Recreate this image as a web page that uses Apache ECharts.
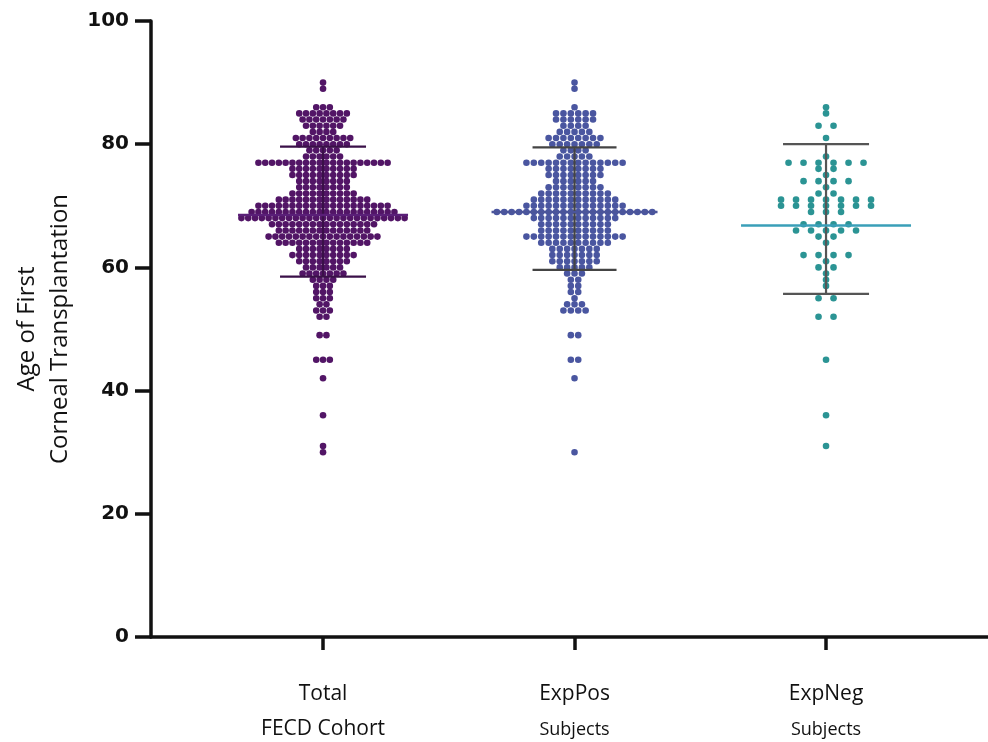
<!DOCTYPE html>
<html>
<head>
<meta charset="utf-8">
<script src="https://cdn.jsdelivr.net/npm/echarts@6/dist/echarts.min.js"></script>
<style>
html, body { margin: 0; padding: 0; background: #fff; }
#main { width: 988px; height: 742px; }
</style>
</head>
<body>
<div id="main"></div>
<script>
// categories
var groupNames = ['Total\nFECD Cohort', 'ExpPos\nSubjects', 'ExpNeg\nSubjects'];
var yTicks = [0, 20, 40, 60, 80, 100];

// ages and how many subjects sit at each age
var totalAges   = [90, 89, 86, 85, 84, 83, 82, 81, 80, 79, 78, 77, 76, 75, 74, 73, 72, 71, 70, 69, 68, 67, 66, 65, 64, 63, 62, 61, 60, 59, 58, 57, 56, 55, 54, 53, 52, 49, 45, 42, 36, 31, 30];
var totalCounts = [1, 1, 3, 8, 7, 6, 4, 9, 8, 5, 6, 20, 10, 10, 8, 8, 10, 14, 20, 22, 25, 16, 14, 17, 14, 8, 10, 8, 6, 7, 4, 3, 3, 3, 2, 3, 2, 2, 3, 1, 1, 1, 1];

var posAges   = [90, 89, 86, 85, 84, 83, 82, 81, 80, 79, 78, 77, 76, 75, 74, 73, 72, 71, 70, 69, 68, 67, 66, 65, 64, 63, 62, 61, 60, 59, 58, 57, 56, 55, 54, 53, 49, 45, 42, 30];
var posCounts = [1, 1, 1, 6, 6, 4, 5, 8, 7, 4, 5, 14, 8, 8, 6, 8, 10, 12, 14, 22, 12, 10, 10, 14, 10, 7, 7, 7, 5, 3, 2, 2, 2, 1, 3, 4, 2, 2, 1, 1];

var negAges   = [86, 85, 83, 81, 78, 77, 76, 75, 74, 73, 72, 71, 70, 69, 67, 66, 65, 64, 62, 61, 60, 59, 58, 57, 55, 52, 45, 36, 31];
var negCounts = [1, 1, 2, 1, 1, 6, 2, 1, 4, 1, 2, 7, 7, 3, 4, 5, 2, 1, 4, 1, 2, 1, 1, 1, 2, 2, 1, 1, 1];

// mean and mean +/- SD per group
var means  = [68.5, 69.0, 66.8];
var sdLow  = [58.5, 59.6, 55.7];
var sdHigh = [79.6, 79.5, 80.0];

var dotColors  = ['#521566', '#4a56a0', '#2b9494'];
var meanColors = ['#5a1f78', '#4b559a', '#3a9fb8'];
var barColors  = ['#3a1048', '#444444', '#555555'];
var pitch      = [6.8, 7.4, 15];     // px between dots in a row
var meanHalf   = [85, 83, 85];       // half width of mean line, px
var sdHalf     = [43, 42, 43];

function buildDots(g, ages, counts) {
    var out = [];
    ages.forEach(function (age, i) {
        var n = counts[i];
        for (var k = 0; k < n; k++) {
            out.push([g + 1, age, k - (n - 1) / 2]);
        }
    });
    return out;
}

var dots = [
    buildDots(0, totalAges, totalCounts),
    buildDots(1, posAges, posCounts),
    buildDots(2, negAges, negCounts)
];

var chart = echarts.init(document.getElementById('main'));

var series = [];
dots.forEach(function (d, g) {
    series.push({
        type: 'custom',
        data: d,
        z: 2,
        renderItem: function (params, api) {
            var p = api.coord([api.value(0), api.value(1)]);
            return {
                type: 'circle',
                shape: { cx: p[0] + api.value(2) * pitch[g], cy: p[1], r: 3.3 },
                style: { fill: dotColors[g] }
            };
        }
    });
});

// mean line + SD whiskers
series.push({
    type: 'custom',
    z: 5,
    data: groupNames.map(function (n, i) { return [i + 1, means[i], sdLow[i], sdHigh[i]]; }),
    renderItem: function (params, api) {
        var i = params.dataIndex;
        var m = api.coord([api.value(0), api.value(1)]);
        var lo = api.coord([api.value(0), api.value(2)]);
        var hi = api.coord([api.value(0), api.value(3)]);
        var bar = { stroke: barColors[i], lineWidth: 2.2 };
        return {
            type: 'group',
            children: [
                { type: 'line', shape: { x1: m[0], y1: lo[1], x2: m[0], y2: hi[1] }, style: bar },
                { type: 'line', shape: { x1: m[0] - sdHalf[i], y1: lo[1], x2: m[0] + sdHalf[i], y2: lo[1] }, style: bar },
                { type: 'line', shape: { x1: m[0] - sdHalf[i], y1: hi[1], x2: m[0] + sdHalf[i], y2: hi[1] }, style: bar },
                { type: 'line', shape: { x1: m[0] - meanHalf[i], y1: m[1], x2: m[0] + meanHalf[i], y2: m[1] },
                  style: { stroke: meanColors[i], lineWidth: 2.5 } }
            ]
        };
    }
});

var option = {
    animation: false,
    grid: { left: 151, right: 0, top: 21, bottom: 105 },
    xAxis: {
        type: 'value',
        min: 0.316,
        max: 3.644,
        splitLine: { show: false },
        axisLine: { lineStyle: { color: '#111', width: 3.5 } },
        axisTick: { customValues: [1, 2, 3], length: 13, lineStyle: { color: '#111', width: 3.5 } },
        axisLabel: {
            customValues: [1, 2, 3],
            margin: 40,
            formatter: function (v) {
                var parts = groupNames[Math.round(v) - 1].split('\n');
                var second = Math.round(v) === 1 ? '{a|' + parts[1] + '}' : '{b|' + parts[1] + '}';
                return '{a|' + parts[0] + '}\n' + second;
            },
            rich: {
                a: { fontFamily: 'Open Sans', fontSize: 21, color: '#111', lineHeight: 35 },
                b: { fontFamily: 'Open Sans', fontSize: 18, color: '#111', lineHeight: 35 }
            }
        }
    },
    yAxis: {
        type: 'value',
        min: 0,
        max: 100,
        interval: 20,
        name: 'Age of First\nCorneal Transplantation',
        nameLocation: 'middle',
        nameGap: 72,
        nameTextStyle: { fontFamily: 'Open Sans', fontSize: 24, color: '#111', lineHeight: 33 },
        splitLine: { show: false },
        axisLine: { show: true, lineStyle: { color: '#111', width: 3.5 } },
        axisTick: { show: true, length: 16, lineStyle: { color: '#111', width: 3.5 } },
        axisLabel: {
            margin: 22,
            fontFamily: 'DejaVu Sans',
            fontWeight: 'bold',
            fontSize: 20,
            color: '#111'
        }
    },
    series: series
};

chart.setOption(option);
</script>
</body>
</html>
